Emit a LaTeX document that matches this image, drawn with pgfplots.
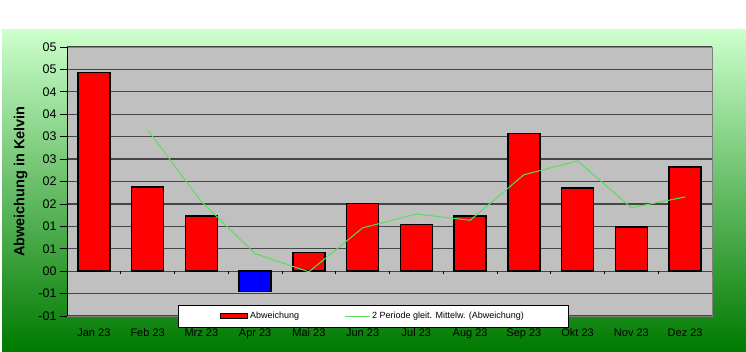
\documentclass[border=0pt]{standalone}
\usepackage{fontspec}
\setmainfont{Liberation Sans}
\usepackage{pgfplots}
\pgfplotsset{compat=1.18}
\definecolor{bggreen}{RGB}{204,255,204}
\definecolor{darkgreen}{RGB}{0,122,0}
\definecolor{plotgrey}{RGB}{192,192,192}
\definecolor{gridgrey}{RGB}{70,70,70}
\definecolor{linegreen}{RGB}{90,222,90}
\begin{document}
\begin{tikzpicture}[x=1bp,y=1bp]
\useasboundingbox (0,0) rectangle (746,351);
\shade[top color=bggreen, bottom color=darkgreen] (2,0) rectangle (746,321);
\begin{axis}[
  at={(67bp,35bp)}, anchor=south west,
  scale only axis, width=645bp, height=269bp,
  xmin=-0.5, xmax=11.5, ymin=-1, ymax=5,
  axis background/.style={fill=plotgrey},
  axis line style={draw=gray},
  ytick={-1,-0.5,0,0.5,1,1.5,2,2.5,3,3.5,4,4.5,5},
  yticklabels={-01,-01,00,01,01,02,02,03,03,04,04,05,05},
  ytick pos=left,
  xtick={0,...,11},
  xticklabels={Jan 23,Feb 23,Mrz 23,Apr 23,Mai 23,Jun 23,Jul 23,Aug 23,Sep 23,Okt 23,Nov 23,Dez 23},
  xtick style={draw=none},
  ytick style={draw=black, line width=0.8bp},
  tick align=outside, major tick length=7bp,
  ymajorgrids, grid style={gridgrey, line width=1.2bp},
  yticklabel style={font=\fontsize{12.5bp}{13bp}\selectfont},
  xticklabel style={font=\fontsize{11bp}{12bp}\selectfont, yshift=-2bp},
  ylabel={Abweichung in Kelvin},
  ylabel style={at={(rel axis cs:-0.072,0.5)}, anchor=center, font=\bfseries\fontsize{14.5bp}{15bp}\selectfont},
  legend columns=2,
  legend style={at={(axis description cs:0.172,0.041)}, anchor=north west, draw=black, fill=white,
    font=\fontsize{9bp}{10bp}\selectfont, inner xsep=42bp, inner ysep=5bp,
    /tikz/every even column/.append style={column sep=43bp}},
]
\addplot[ybar, bar width=32bp, bar shift=0pt, fill=red, draw=black, line width=1.6bp,
  legend image code/.code={\draw[fill=red, draw=black, line width=1bp] (5bp,-2.5bp) rectangle (32bp,2.5bp);}]
  coordinates {(0,4.43) (1,1.875) (2,1.23) (4,0.42) (5,1.51) (6,1.04) (7,1.23) (8,3.07) (9,1.85) (10,0.98) (11,2.33)};
\addlegendentry{Abweichung}
\addplot[ybar, bar width=32bp, bar shift=0pt, fill=blue, draw=black, line width=1.6bp, forget plot]
  coordinates {(3,-0.45)};
\addplot[linegreen, line width=1bp, mark=none,
  legend image code/.code={\draw[linegreen, line width=1bp] (0bp,0bp) -- (25bp,0bp);}]
  coordinates {(1,3.15) (2,1.55) (3,0.39) (4,-0.015) (5,0.965) (6,1.275) (7,1.135) (8,2.15) (9,2.46) (10,1.415) (11,1.655)};
\addlegendentry{2 Periode gleit. Mittelw. (Abweichung)}
\pgfplotsinvokeforeach{0.5,1.5,2.5,3.5,4.5,5.5,6.5,7.5,8.5,9.5,10.5,11.5}{
  \draw[black, line width=0.8bp] (axis cs:#1,0) -- ++(0bp,-3bp);
}
\draw[black, line width=1bp] (rel axis cs:0,0) -- (rel axis cs:0,1);
\end{axis}
\end{tikzpicture}
\end{document}
